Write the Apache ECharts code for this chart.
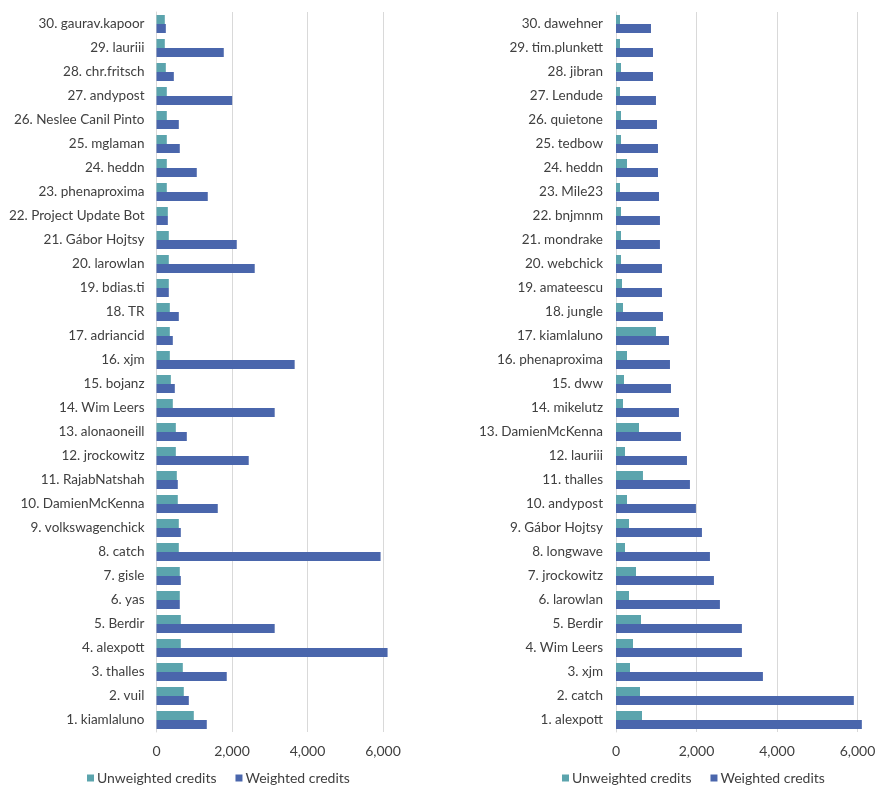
<!DOCTYPE html>
<html>
<head>
<meta charset="utf-8">
<script src="https://cdn.jsdelivr.net/npm/echarts@6/dist/echarts.min.js"></script>
<style>html,body{margin:0;padding:0;background:#fff}#c{width:896px;height:792px}</style>
</head>
<body>
<div id="c"></div>
<script>
const leftCategories = ["1. kiamlaluno","2. vuil","3. thalles","4. alexpott","5. Berdir","6. yas","7. gisle","8. catch","9. volkswagenchick","10. DamienMcKenna","11. RajabNatshah","12. jrockowitz","13. alonaoneill","14. Wim Leers","15. bojanz","16. xjm","17. adriancid","18. TR","19. bdias.ti","20. larowlan","21. Gábor Hojtsy","22. Project Update Bot","23. phenaproxima","24. heddn","25. mglaman","26. Neslee Canil Pinto","27. andypost","28. chr.fritsch","29. lauriii","30. gaurav.kapoor"];
const leftUnweighted = [988,723,697,644,644,617,617,591,591,564,538,512,512,432,380,353,353,353,326,326,326,300,273,273,273,273,273,247,220,220];
const leftWeighted = [1332,856,1861,6121,3131,617,644,5936,644,1623,564,2443,803,3131,485,3660,432,591,326,2602,2126,300,1358,1067,617,591,2005,459,1782,247];

const rightCategories = ["1. alexpott","2. catch","3. xjm","4. Wim Leers","5. Berdir","6. larowlan","7. jrockowitz","8. longwave","9. Gábor Hojtsy","10. andypost","11. thalles","12. lauriii","13. DamienMcKenna","14. mikelutz","15. dww","16. phenaproxima","17. kiamlaluno","18. jungle","19. amateescu","20. webchick","21. mondrake","22. bnjmnm","23. Mile23","24. heddn","25. tedbow","26. quietone","27. Lendude","28. jibran","29. tim.plunkett","30. dawehner"];
const rightUnweighted = [646,596,348,422,621,323,497,223,323,273,670,223,571,174,199,273,993,174,149,124,124,124,99,273,124,124,99,124,99,99];
const rightWeighted = [6108,5909,3650,3128,3128,2582,2433,2334,2135,1986,1837,1763,1614,1564,1366,1341,1316,1167,1142,1142,1092,1092,1068,1043,1043,1018,993,919,919,869];

const xTicks = [0, 2000, 4000, 6000];
const seriesNames = ["Unweighted credits", "Weighted credits"];

const FONT = "Lato";
const TXT = "#404040";
const TEAL = "#5BA4AD";
const BLUE = "#4A66AC";
const GRID = "#d9d9d9";

function xAxis(idx) {
  return {
    type: "value", gridIndex: idx, min: xTicks[0], max: xTicks[xTicks.length - 1], interval: xTicks[1] - xTicks[0],
    axisLine: {show: false}, axisTick: {show: false},
    splitLine: {show: true, lineStyle: {color: GRID, width: 1}},
    axisLabel: {color: TXT, fontSize: 14, fontFamily: FONT, margin: 12,
      formatter: v => v.toLocaleString("en-US")}
  };
}
function yAxis(idx, cats, margin) {
  return {
    type: "category", gridIndex: idx, data: cats,
    axisLine: {show: true, lineStyle: {color: GRID, width: 1}},
    axisTick: {show: false},
    axisLabel: {color: TXT, fontSize: 13.5, fontFamily: FONT, margin: margin, interval: 0}
  };
}
function bar(name, xi, data, color) {
  return {
    type: "bar", name: name, xAxisIndex: xi, yAxisIndex: xi, data: data,
    barGap: "0%", barCategoryGap: "25%", clip: false,
    itemStyle: {color: color}, emphasis: {disabled: true}
  };
}
function legend(left) {
  return {
    left: left, top: 766, itemWidth: 7, itemHeight: 7, itemGap: 19, icon: "rect",
    data: seriesNames, selectedMode: false,
    textStyle: {color: TXT, fontSize: 14, fontFamily: FONT, padding: [0, 0, 0, -2]}
  };
}

const chart = echarts.init(document.getElementById("c"), null, {renderer: "canvas"});
chart.setOption({
  animation: false,
  backgroundColor: "#fff",
  grid: [
    {left: 156.5, top: 12, width: 226.5, height: 720},
    {left: 616, top: 12, width: 241.5, height: 720}
  ],
  xAxis: [xAxis(0), xAxis(1)],
  yAxis: [yAxis(0, leftCategories, 12), yAxis(1, rightCategories, 13)],
  legend: [legend(82), legend(557)],
  series: [
    bar(seriesNames[0], 0, leftUnweighted, TEAL),
    bar(seriesNames[1], 0, leftWeighted, BLUE),
    bar(seriesNames[0], 1, rightUnweighted, TEAL),
    bar(seriesNames[1], 1, rightWeighted, BLUE)
  ]
});
</script>
</body>
</html>
